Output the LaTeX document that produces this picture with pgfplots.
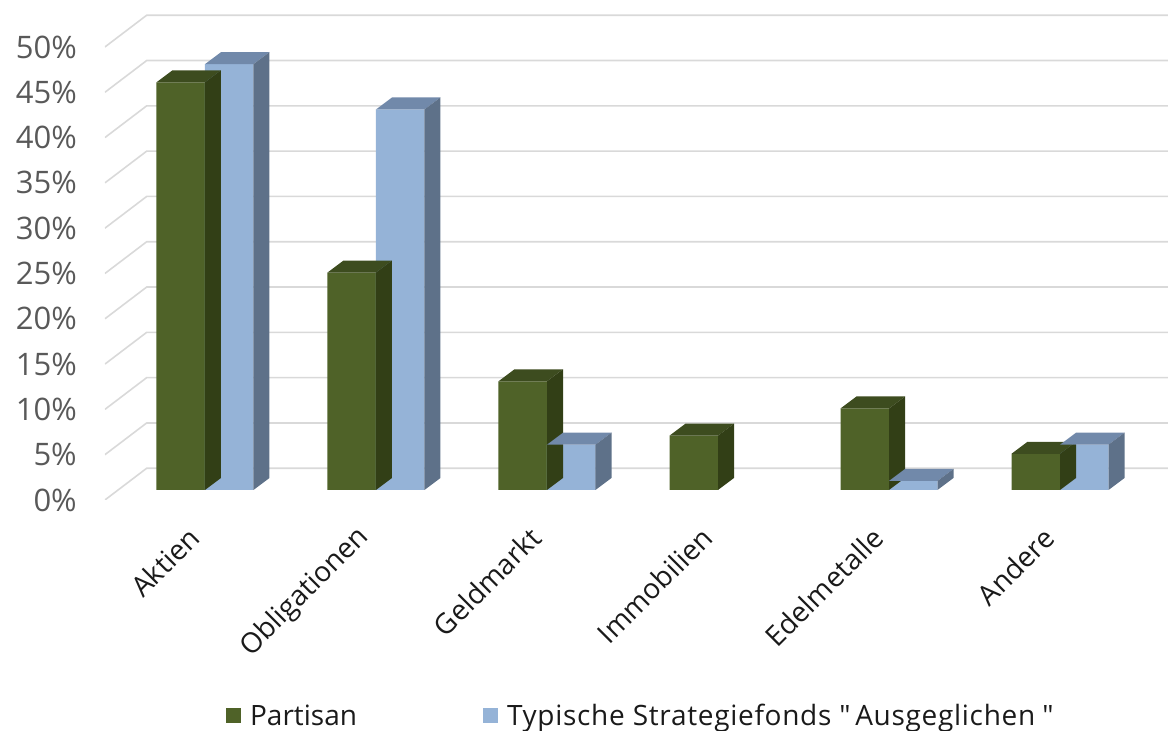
\documentclass[border=0pt]{standalone}
\usepackage{fontspec}
\setmainfont{Open Sans}[Ligatures=TeXOff]
\usepackage{pgfplots}
\pgfplotsset{compat=1.18}
\usepackage{pgfplotstable}

\definecolor{gfront}{HTML}{4F6228}
\definecolor{gtop}{HTML}{3D4C1F}
\definecolor{gside}{HTML}{323F16}
\definecolor{bfront}{HTML}{95B3D7}
\definecolor{btop}{HTML}{7189AA}
\definecolor{bside}{HTML}{5E7189}
\definecolor{gridc}{HTML}{D9D9D9}
\definecolor{tickc}{HTML}{595959}
\definecolor{catc}{HTML}{1A1A1A}

\pgfplotstableread{
cat val
0 45
1 24
2 12
3 6
4 9
5 4
}\partisan
\pgfplotstableread{
cat val
0 47
1 42
2 5
4 1
5 5
}\typisch

\newcommand\cubemark[2]{%
  \pgfmathsetmacro\hh{\barval*9.06}%
  \pgfpathmoveto{\pgfpoint{-24.25pt}{0pt}}%
  \pgfpathlineto{\pgfpoint{-8.25pt}{12pt}}%
  \pgfpathlineto{\pgfpoint{40.25pt}{12pt}}%
  \pgfpathlineto{\pgfpoint{24.25pt}{0pt}}%
  \pgfpathclose
  \pgfsetfillcolor{#1}\pgfusepath{fill}%
  \pgfpathmoveto{\pgfpoint{24.25pt}{0pt}}%
  \pgfpathlineto{\pgfpoint{40.25pt}{12pt}}%
  \pgfpathlineto{\pgfpoint{40.25pt}{12pt-\hh pt}}%
  \pgfpathlineto{\pgfpoint{24.25pt}{-\hh pt}}%
  \pgfpathclose
  \pgfsetfillcolor{#2}\pgfusepath{fill}%
}
\pgfdeclareplotmark{gcube}{\cubemark{gtop}{gside}}
\pgfdeclareplotmark{bcube}{\cubemark{btop}{bside}}

\begin{document}
\begin{tikzpicture}
\begin{axis}[
  x=171pt, y=9.06pt,
  xmin=-0.585, xmax=5.6316, ymin=-1.10, ymax=53,
  enlargelimits=false,
  axis line style={draw=none},
  tick style={draw=none},
  xtick={0,...,5},
  xticklabels={Aktien,Obligationen,Geldmarkt,Immobilien,Edelmetalle,Andere},
  xticklabel style={xshift=-11pt, yshift=-33pt, rotate=45, anchor=east, inner sep=0pt,
    font=\fontsize{28}{34}\selectfont, text=catc},
  ytick={0,5,...,50},
  yticklabels={0\%,5\%,10\%,15\%,20\%,25\%,30\%,35\%,40\%,45\%,50\%},
  yticklabel style={xshift=-28pt, yshift=-10pt, anchor=east, inner sep=0pt,
    font=\fontsize{31}{36}\selectfont, text=tickc},
  legend style={at={(0.1138,-0.4406)}, anchor=west, draw=none, fill=none,
    inner sep=0pt, legend columns=2, font=\fontsize{28}{32}\selectfont,
    nodes={inner sep=0pt, text=catc},
    /tikz/every odd column/.append style={column sep=9pt},
    /tikz/every even column/.append style={column sep=126pt}},
]
% gridlines (front edge -> back wall)
\addplot[gridc, line width=1.6pt, forget plot] coordinates {(-0.585,-1.10) (-0.341,2.40) (5.8,2.40)};
\addplot[gridc, line width=1.6pt, forget plot] coordinates {(-0.585,3.90) (-0.341,7.40) (5.8,7.40)};
\addplot[gridc, line width=1.6pt, forget plot] coordinates {(-0.585,8.90) (-0.341,12.40) (5.8,12.40)};
\addplot[gridc, line width=1.6pt, forget plot] coordinates {(-0.585,13.90) (-0.341,17.40) (5.8,17.40)};
\addplot[gridc, line width=1.6pt, forget plot] coordinates {(-0.585,18.90) (-0.341,22.40) (5.8,22.40)};
\addplot[gridc, line width=1.6pt, forget plot] coordinates {(-0.585,23.90) (-0.341,27.40) (5.8,27.40)};
\addplot[gridc, line width=1.6pt, forget plot] coordinates {(-0.585,28.90) (-0.341,32.40) (5.8,32.40)};
\addplot[gridc, line width=1.6pt, forget plot] coordinates {(-0.585,33.90) (-0.341,37.40) (5.8,37.40)};
\addplot[gridc, line width=1.6pt, forget plot] coordinates {(-0.585,38.90) (-0.341,42.40) (5.8,42.40)};
\addplot[gridc, line width=1.6pt, forget plot] coordinates {(-0.585,43.90) (-0.341,47.40) (5.8,47.40)};
\addplot[gridc, line width=1.6pt, forget plot] coordinates {(-0.585,48.90) (-0.341,52.40) (5.8,52.40)};

% Partisan
\addplot[ybar, bar width=48.5pt, bar shift=-24.25pt, fill=gfront, draw=none,
  legend image code/.code={\fill[gfront] (0pt,-7.5pt) rectangle (15pt,7.5pt);}]
  table[x=cat, y=val] {\partisan};
\addplot[only marks, mark=gcube, forget plot,
  visualization depends on={\thisrow{val} \as \barval}]
  table[x expr=\thisrow{cat}-0.14181, y=val] {\partisan};

% Typische
\addplot[ybar, bar width=48.5pt, bar shift=24.25pt, fill=bfront, draw=none,
  legend image code/.code={\fill[bfront] (0pt,-7.5pt) rectangle (15pt,7.5pt);}]
  table[x=cat, y=val] {\typisch};
\addplot[only marks, mark=bcube, forget plot,
  visualization depends on={\thisrow{val} \as \barval}]
  table[x expr=\thisrow{cat}+0.14181, y=val] {\typisch};

\legend{Partisan, {\addfontfeature{LetterSpace=2.5}Typische Strategiefonds "\,Ausgeglichen\hspace{7pt}"}}

\coordinate (bbA) at (axis cs:-1.1988,54.083);
\coordinate (bbB) at (axis cs:5.6316,-26.600);
\end{axis}
\pgfresetboundingbox
\path (bbA) rectangle (bbB);
\end{tikzpicture}
\end{document}
